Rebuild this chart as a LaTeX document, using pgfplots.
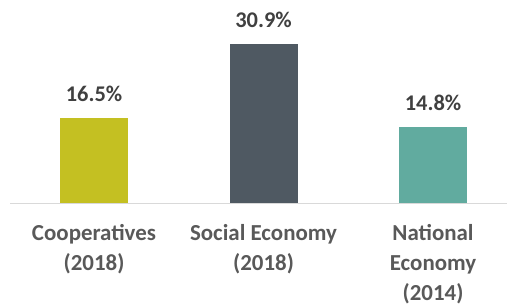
\documentclass[border=0pt]{standalone}
\usepackage{pgfplots}
\pgfplotsset{compat=1.18}
\usepackage{fontspec}
\setmainfont{Carlito}
\definecolor{coop}{RGB}{196,192,34}
\definecolor{soc}{RGB}{79,89,98}
\definecolor{nat}{RGB}{97,171,159}
\definecolor{baseln}{RGB}{217,217,217}
\definecolor{labeltext}{RGB}{64,64,64}
\definecolor{ticktext}{RGB}{89,89,89}
\begin{document}
\begin{tikzpicture}
\useasboundingbox (0,0) rectangle (507bp,307bp);
\begin{axis}[
  at={(10bp,104bp)}, anchor=south west,
  scale only axis, width=497bp, height=190bp,
  xmin=-0.4956, xmax=2.4366, ymin=0, ymax=36.92,
  ybar, bar width=68bp, bar shift=0pt,
  hide y axis,
  axis x line*=bottom,
  x axis line style={-, draw=baseln, line width=1bp},
  xtick={0,1,2},
  xticklabels={Cooperatives\\(2018), Social Economy\\(2018), National\\Economy\\(2014)},
  xtick style={draw=none},
  xticklabel style={align=center, font=\fontsize{23}{30}\selectfont\bfseries, text=ticktext, yshift=-14bp},
  nodes near coords={\pgfmathprintnumber[fixed,fixed zerofill,precision=1]{\pgfplotspointmeta}\%},
  every node near coord/.append style={font=\fontsize{22.5}{26}\selectfont\bfseries, text=labeltext, anchor=center, yshift=24bp},
  /pgf/number format/assume math mode=true,
  clip=false,
]
\addplot[fill=coop, draw=none] coordinates {(0,16.5)};
\addplot[fill=soc, draw=none] coordinates {(1,30.9)};
\addplot[fill=nat, draw=none] coordinates {(2,14.8)};
\end{axis}
\end{tikzpicture}
\end{document}
